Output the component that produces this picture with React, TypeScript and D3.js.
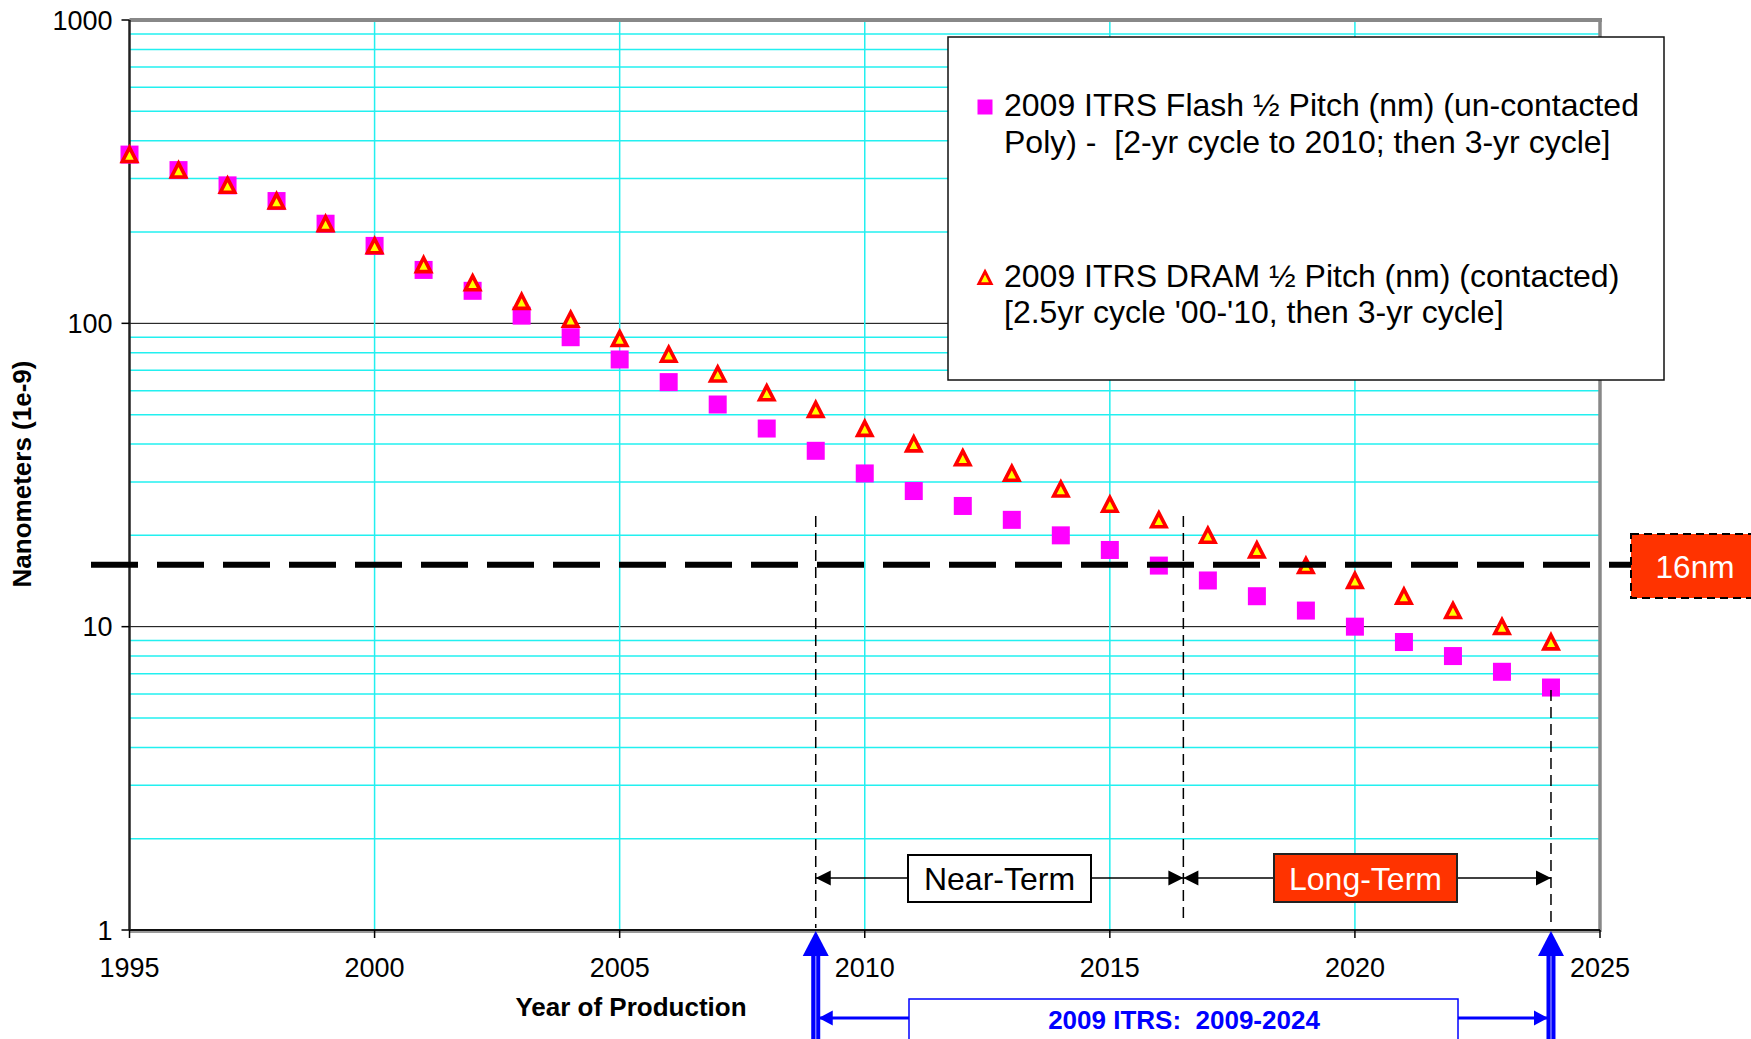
import React from 'react';
import * as d3 from 'd3';

const years = [1995, 1996, 1997, 1998, 1999, 2000, 2001, 2002, 2003, 2004, 2005, 2006, 2007, 2008, 2009,
  2010, 2011, 2012, 2013, 2014, 2015, 2016, 2017, 2018, 2019, 2020, 2021, 2022, 2023, 2024];
const flashPitch = [360, 320, 285, 253, 213, 180, 150, 128, 106, 90, 76, 64, 54, 45, 38,
  32, 28, 25, 22.5, 20, 17.9, 15.9, 14.2, 12.6, 11.3, 10, 8.9, 8.0, 7.1, 6.3];
const dramPitch = [360, 320, 285, 253, 213, 180, 156, 136, 118, 103, 89, 79, 68, 59, 52,
  45, 40, 36, 32, 28.4, 25.3, 22.5, 20, 17.9, 15.9, 14.2, 12.6, 11.3, 10, 8.9];

const xTicks = [1995, 2000, 2005, 2010, 2015, 2020, 2025];
const yTicks = [1, 10, 100, 1000];
const legendFlash = ['2009 ITRS Flash ½ Pitch (nm) (un-contacted', 'Poly) -  [2-yr cycle to 2010; then 3-yr cycle]'];
const legendDram = ['2009 ITRS DRAM ½ Pitch (nm) (contacted)', "[2.5yr cycle '00-'10, then 3-yr cycle]"];
const targetNm = 16;
const nearStart = 2009;
const longStart = 2016.5;
const roadmapEnd = 2024;

const W = 1751;
const H = 1039;
const left = 129.5, right = 1600, top = 20, bottom = 930;
const FONT = '"Liberation Sans", Arial, sans-serif';

function tri(cx: number, cy: number, s: number) {
  return `M${cx},${cy - s}L${cx + s * 0.95},${cy + s * 0.85}L${cx - s * 0.95},${cy + s * 0.85}Z`;
}

function arrowHead(x: number, y: number, dir: number, len: number, half: number) {
  return `M${x},${y}L${x - dir * len},${y - half}L${x - dir * len},${y + half}Z`;
}

export default function App() {
  const x = d3.scaleLinear().domain([1995, 2025]).range([left, right]);
  const y = d3.scaleLog().domain([1, 1000]).range([bottom, top]);

  const minor: number[] = [];
  [1, 10, 100].forEach(d => { for (let k = 2; k <= 9; k++) minor.push(d * k); });

  const yLine = y(targetNm);
  const xNear = x(nearStart), xLong = x(longStart), xEnd = x(roadmapEnd);
  const arrowY = 878;

  return (
    <svg width={W} height={H} style={{ position: 'absolute', left: 0, top: 0, background: '#fff' }}
      fontFamily={FONT}>
      {/* gridlines */}
      {minor.map(v => (
        <line key={'m' + v} x1={left} x2={right} y1={y(v)} y2={y(v)} stroke="#22F0F0" strokeWidth={1.5} />
      ))}
      {[10, 100].map(v => (
        <line key={'M' + v} x1={left} x2={right} y1={y(v)} y2={y(v)} stroke="#000" strokeWidth={1} />
      ))}
      {xTicks.slice(1, -1).map(t => (
        <line key={'v' + t} x1={x(t)} x2={x(t)} y1={top} y2={bottom} stroke="#22F0F0" strokeWidth={1.5} />
      ))}

      {/* frame */}
      <line x1={left} x2={right + 2} y1={top} y2={top} stroke="#888" strokeWidth={4} />
      <line x1={right} x2={right} y1={top} y2={bottom + 2} stroke="#888" strokeWidth={3.5} />
      <line x1={left} x2={right} y1={bottom + 1.5} y2={bottom + 1.5} stroke="#999" strokeWidth={3} />
      <line x1={left} x2={right} y1={bottom} y2={bottom} stroke="#111" strokeWidth={2} />
      <line x1={left} x2={left} y1={top} y2={bottom} stroke="#222" strokeWidth={2.5} />

      {/* ticks */}
      {yTicks.map(v => (
        <g key={'yt' + v}>
          <line x1={left - 8} x2={left} y1={y(v)} y2={y(v)} stroke="#000" strokeWidth={1.5} />
          <text x={left - 17} y={y(v) + 9.5} textAnchor="end" fontSize={27} fill="#000">{v}</text>
        </g>
      ))}
      {xTicks.map(t => (
        <g key={'xt' + t}>
          <line x1={x(t)} x2={x(t)} y1={bottom} y2={bottom + 8} stroke="#000" strokeWidth={1.5} />
          <text x={x(t)} y={977} textAnchor="middle" fontSize={27} fill="#000">{t}</text>
        </g>
      ))}

      {/* axis titles */}
      <text x={631} y={1016} textAnchor="middle" fontSize={26} fontWeight="bold">Year of Production</text>
      <text transform="translate(31,474) rotate(-90)" textAnchor="middle" fontSize={26} fontWeight="bold">
        Nanometers (1e-9)
      </text>

      {/* legend */}
      <rect x={948} y={37} width={716} height={343} fill="#fff" stroke="#111" strokeWidth={1.5} />
      <rect x={977.5} y={99.5} width={15} height={15} fill="#FF00FF" />
      {legendFlash.map((s, i) => (
        <text key={'lf' + i} x={1004} y={116 + i * 37} fontSize={32} style={{ whiteSpace: 'pre' }}>{s}</text>
      ))}
      <path d={tri(985, 278, 6.5)} fill="#FFFF00" stroke="#FF0000" strokeWidth={2.8} strokeLinejoin="miter" />
      {legendDram.map((s, i) => (
        <text key={'ld' + i} x={1004} y={287 + i * 36} fontSize={32} style={{ whiteSpace: 'pre' }}>{s}</text>
      ))}

      {/* data */}
      {years.map((yr, i) => (
        <rect key={'f' + yr} x={x(yr) - 9} y={y(flashPitch[i]) - 9} width={18} height={18} fill="#FF00FF" />
      ))}
      {years.map((yr, i) => (
        <path key={'d' + yr} d={tri(x(yr), y(dramPitch[i]) + 0.5, 7.5)} fill="#FFFF00" stroke="#FF0000"
          strokeWidth={3.6} strokeLinejoin="miter" />
      ))}

      {/* 16nm target line */}
      <line x1={91} x2={1631} y1={yLine} y2={yLine} stroke="#000" strokeWidth={6} strokeDasharray="47,19" />
      <rect x={1631} y={534} width={140} height={64} fill="#FF3300" stroke="#000" strokeWidth={2}
        strokeDasharray="8,5" />
      <text x={1695} y={578} textAnchor="middle" fontSize={31.5} fill="#fff">16nm</text>

      {/* period separators */}
      <line x1={xNear} x2={xNear} y1={516} y2={928} stroke="#000" strokeWidth={1.5} strokeDasharray="11,6" />
      <line x1={xLong} x2={xLong} y1={516} y2={920} stroke="#000" strokeWidth={1.5} strokeDasharray="11,6" />
      <line x1={xEnd} x2={xEnd} y1={690} y2={922} stroke="#000" strokeWidth={1.5} strokeDasharray="11,6" />

      {/* near / long term arrows */}
      <line x1={xNear} x2={xLong} y1={arrowY} y2={arrowY} stroke="#000" strokeWidth={1.5} />
      <line x1={xLong} x2={xEnd} y1={arrowY} y2={arrowY} stroke="#000" strokeWidth={1.5} />
      <path d={arrowHead(xNear, arrowY, -1, 15, 7.5)} fill="#000" />
      <path d={arrowHead(xLong, arrowY, 1, 15, 7.5)} fill="#000" />
      <path d={arrowHead(xLong, arrowY, -1, 15, 7.5)} fill="#000" />
      <path d={arrowHead(xEnd, arrowY, 1, 15, 7.5)} fill="#000" />
      <rect x={908} y={855} width={183} height={47} fill="#fff" stroke="#000" strokeWidth={2} />
      <text x={999.5} y={890} textAnchor="middle" fontSize={32}>Near-Term</text>
      <rect x={1274} y={854} width={183} height={48} fill="#FF3300" stroke="#222" strokeWidth={2} />
      <text x={1365.5} y={890} textAnchor="middle" fontSize={32} fill="#fff">Long-Term</text>

      {/* roadmap span (blue) */}
      {[xNear, xEnd].map((bx, i) => (
        <g key={'b' + i}>
          <line x1={bx} x2={bx} y1={950} y2={H} stroke="#0000FF" strokeWidth={9} />
          <line x1={bx} x2={bx} y1={956} y2={H} stroke="#7777FF" strokeWidth={1.5} />
          <path d={`M${bx},${bottom + 1}L${bx + 13},${bottom + 26}L${bx - 13},${bottom + 26}Z`} fill="#0000FF" />
        </g>
      ))}
      <line x1={xNear + 4} x2={xEnd - 4} y1={1018} y2={1018} stroke="#0000FF" strokeWidth={3} />
      <path d={arrowHead(xNear + 3, 1018, -1, 14, 7.5)} fill="#0000FF" />
      <path d={arrowHead(xEnd - 3, 1018, 1, 14, 7.5)} fill="#0000FF" />
      <rect x={909} y={999} width={549} height={60} fill="#fff" stroke="#0000FF" strokeWidth={1.5} />
      <text x={1184} y={1029} textAnchor="middle" fontSize={26} fontWeight="bold" fill="#0000FF"
        style={{ whiteSpace: 'pre' }}>2009 ITRS:  2009-2024</text>
    </svg>
  );
}
